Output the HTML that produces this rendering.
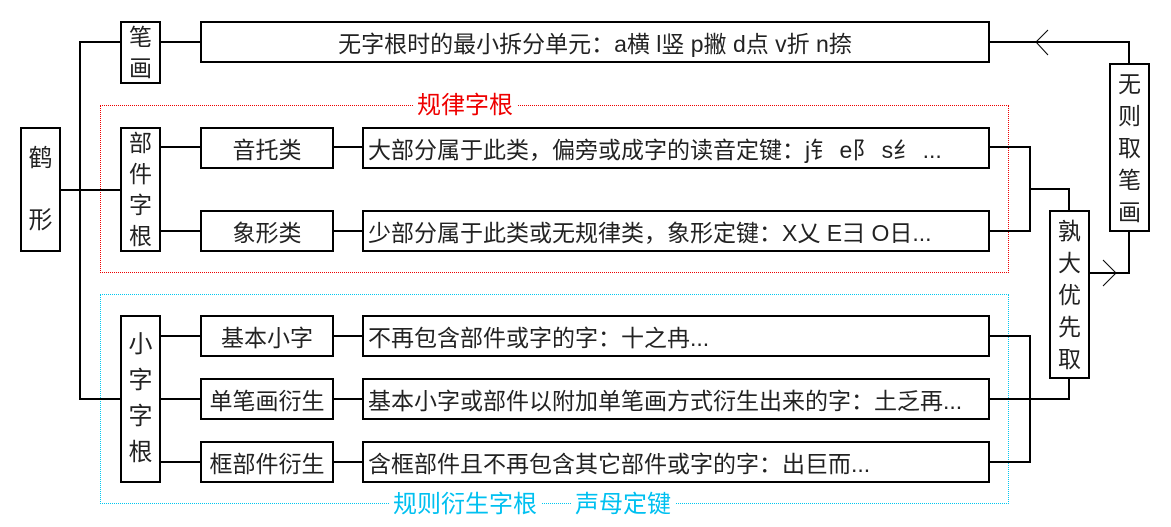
<!DOCTYPE html>
<html><head><meta charset="utf-8"><style>
body{margin:0;background:#fff;width:1171px;height:527px;overflow:hidden;position:relative;font-family:"Liberation Sans","Noto Sans CJK SC",sans-serif;color:#222}
.b{position:absolute;border:2px solid #000;box-sizing:border-box;background:#fff;display:flex;align-items:center;justify-content:center;font-size:23px;white-space:nowrap}
.t{justify-content:flex-start;padding-left:4px}
.v{flex-direction:column;line-height:31px}
.h{position:absolute;height:2px;background:#000}
.vl{position:absolute;width:2px;background:#000}
.lbl{position:absolute;font-size:24px;background:#fff;padding:0 4px;line-height:26px}
</style></head><body>
<div style="position:absolute;left:100px;top:105px;width:909px;height:168px;border:1px dotted #e00;box-sizing:border-box"></div>
<div style="position:absolute;left:100px;top:294px;width:909px;height:210px;border:1px dotted #00c8f0;box-sizing:border-box"></div>
<div class="lbl" style="left:413px;top:93px;color:#e00">规律字根</div>
<div class="lbl" style="left:389px;top:492px;color:#00c0f0">规则衍生字根</div>
<div class="lbl" style="left:571px;top:492px;color:#00c0f0">声母定键</div>

<div class="h" style="left:60px;top:189px;width:60px"></div>
<div class="vl" style="left:79px;top:41px;height:359px"></div>
<div class="h" style="left:79px;top:41px;width:41px"></div>
<div class="h" style="left:79px;top:398px;width:41px"></div>
<div class="h" style="left:160px;top:41px;width:40px"></div>
<div class="h" style="left:160px;top:146px;width:40px"></div>
<div class="h" style="left:160px;top:230px;width:40px"></div>
<div class="h" style="left:160px;top:335px;width:40px"></div>
<div class="h" style="left:160px;top:398px;width:40px"></div>
<div class="h" style="left:160px;top:461px;width:40px"></div>
<div class="h" style="left:333px;top:146px;width:30px"></div>
<div class="h" style="left:333px;top:230px;width:30px"></div>
<div class="h" style="left:333px;top:335px;width:30px"></div>
<div class="h" style="left:333px;top:398px;width:30px"></div>
<div class="h" style="left:333px;top:461px;width:30px"></div>
<div class="h" style="left:989px;top:41px;width:141px"></div>
<div class="vl" style="left:1128px;top:41px;height:23px"></div>
<div class="h" style="left:989px;top:146px;width:42px"></div>
<div class="h" style="left:989px;top:230px;width:42px"></div>
<div class="vl" style="left:1029px;top:146px;height:86px"></div>
<div class="h" style="left:1029px;top:188px;width:41px"></div>
<div class="vl" style="left:1068px;top:188px;height:23px"></div>
<div class="h" style="left:1089px;top:272px;width:41px"></div>
<div class="vl" style="left:1128px;top:230px;height:44px"></div>
<div class="h" style="left:989px;top:335px;width:42px"></div>
<div class="h" style="left:989px;top:461px;width:42px"></div>
<div class="vl" style="left:1029px;top:335px;height:128px"></div>
<div class="h" style="left:989px;top:398px;width:81px"></div>
<div class="vl" style="left:1068px;top:377px;height:23px"></div>
<svg style="position:absolute;left:0;top:0" width="1171" height="527">
<polyline points="1048,30 1036,42 1048,55" fill="none" stroke="#000" stroke-width="1"/>
<polyline points="1103,260 1116,273 1103,286" fill="none" stroke="#000" stroke-width="1"/>
</svg>

<div class="b v" style="left:20px;top:127px;width:41px;height:125px;line-height:62px;font-size:24px">鹤<br>形</div>
<div class="b v" style="left:120px;top:21px;width:41px;height:63px">笔<br>画</div>
<div class="b v" style="left:120px;top:127px;width:41px;height:125px">部<br>件<br>字<br>根</div>
<div class="b v" style="left:120px;top:315px;width:41px;height:168px;line-height:36px;font-size:24px">小<br>字<br>字<br>根</div>
<div class="b" style="left:200px;top:21px;width:790px;height:42px">无字根时的最小拆分单元：a横 l竖 p撇 d点 v折 n捺</div>
<div class="b" style="left:200px;top:127px;width:134px;height:42px">音托类</div>
<div class="b" style="left:200px;top:210px;width:134px;height:42px">象形类</div>
<div class="b" style="left:200px;top:315px;width:134px;height:42px">基本小字</div>
<div class="b" style="left:200px;top:378px;width:134px;height:42px">单笔画衍生</div>
<div class="b" style="left:200px;top:441px;width:134px;height:42px">框部件衍生</div>
<div class="b t" style="left:362px;top:127px;width:628px;height:42px">大部分属于此类，偏旁或成字的读音定键：j钅 e阝 s纟 ...</div>
<div class="b t" style="left:362px;top:210px;width:628px;height:42px">少部分属于此类或无规律类，象形定键：X乂 E彐 O日...</div>
<div class="b t" style="left:362px;top:315px;width:628px;height:42px">不再包含部件或字的字：十之冉...</div>
<div class="b t" style="left:362px;top:378px;width:628px;height:42px">基本小字或部件以附加单笔画方式衍生出来的字：土乏再...</div>
<div class="b t" style="left:362px;top:441px;width:628px;height:42px">含框部件且不再包含其它部件或字的字：出巨而...</div>
<div class="b v" style="left:1109px;top:63px;width:41px;height:169px;line-height:32px">无<br>则<br>取<br>笔<br>画</div>
<div class="b v" style="left:1049px;top:210px;width:41px;height:169px;line-height:32px">孰<br>大<br>优<br>先<br>取</div>
</body></html>
